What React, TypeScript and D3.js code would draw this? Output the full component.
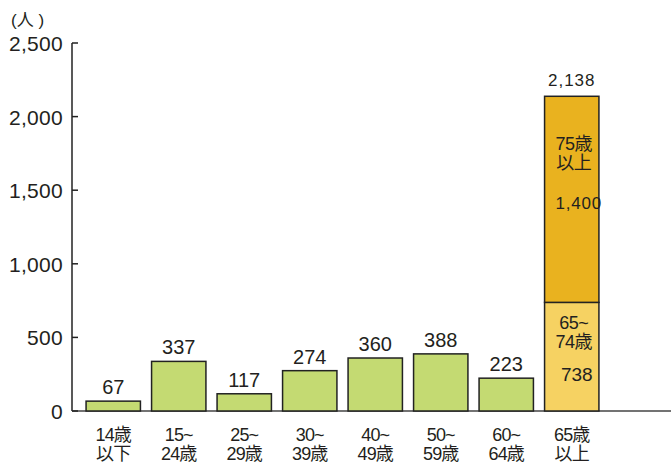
import React from "react";
import * as d3 from "d3";

const categories = ["14歳|以下", "15~|24歳", "25~|29歳", "30~|39歳", "40~|49歳", "50~|59歳", "60~|64歳", "65歳|以上"];
const values = [67, 337, 117, 274, 360, 388, 223];
const elderlySegments = [738, 1400];
const elderlyNames = ["65~|74歳", "75歳|以上"];
const yTicks = [0, 500, 1000, 1500, 2000, 2500];

const W = 671, H = 465;
const FONT = "'Liberation Sans', Arial, 'Noto Sans CJK JP', sans-serif";
const TXT = "#231f20";

export default function App() {
  const y = d3.scaleLinear().domain([0, 2500]).range([411, 43]);
  const x = d3.scaleBand<string>().domain(categories).range([80.5, 604.5]).paddingInner(0.17).paddingOuter(0.085);
  const bw = x.bandwidth();
  const fmt = d3.format(",");
  const total = d3.sum(elderlySegments);
  const stacked = d3.stack<any>().keys(["a", "b"])([{ a: elderlySegments[0], b: elderlySegments[1] }]);
  const segColors = ["#f6d262", "#e9b21f"];
  const last = categories[categories.length - 1];
  const lx = x(last)!;

  return (
    <svg width={W} height={H} style={{ position: "absolute", left: 0, top: 0, background: "#fff" }} fontFamily={FONT}>
      {/* unit */}
      <text x={11} y={26} fontSize={17} fill={TXT}>(人 )</text>
      {/* y axis */}
      <line x1={72} x2={72} y1={y(2500)} y2={y(0)} stroke="#222" strokeWidth={1.5} />
      <line x1={72} x2={671} y1={y(0)} y2={y(0)} stroke="#444" strokeWidth={1.5} />
      {yTicks.map((t) => (
        <g key={t}>
          <line x1={72} x2={78} y1={y(t)} y2={y(t)} stroke="#222" strokeWidth={1.5} />
          <text x={63} y={y(t) + 8} fontSize={21} textAnchor="end" fill={TXT} letterSpacing={0.3}>{fmt(t)}</text>
        </g>
      ))}
      {/* bars */}
      {values.map((v, i) => {
        const c = categories[i];
        return (
          <g key={c}>
            <rect x={x(c)} y={y(v)} width={bw} height={y(0) - y(v)} fill="#c4da72" stroke="#222" strokeWidth={1.5} />
            <text x={x(c)! + bw / 2} y={y(v) - 7} fontSize={20} textAnchor="middle" fill={TXT}>{fmt(v)}</text>
          </g>
        );
      })}
      {/* stacked */}
      {stacked.map((s, k) => {
        const [d0, d1] = s[0];
        return (
          <rect key={k} x={lx} y={y(d1)} width={bw} height={y(d0) - y(d1)} fill={segColors[k]} stroke="#222" strokeWidth={1.5} />
        );
      })}
      <text x={lx + bw / 2} y={y(total) - 10} fontSize={17} textAnchor="middle" fill={TXT} letterSpacing={1}>{fmt(total)}</text>
      {stacked.map((s, k) => {
        const top = y(s[0][1]);
        const [l1, l2] = elderlyNames[k].split("|");
        const offs = k === 0 ? [27, 46, 79] : [54, 73, 113];
        return (
          <g key={"t" + k} fontSize={18} fill={TXT}>
            <text x={lx + bw / 2 + 2} y={top + offs[0]} textAnchor="middle" letterSpacing={-0.5}>{l1}</text>
            <text x={lx + bw / 2 + 2} y={top + offs[1]} textAnchor="middle" letterSpacing={-0.5}>{l2}</text>
            <text x={lx + bw / 2 + (k === 0 ? 5 : 7)} y={top + offs[2]} textAnchor="middle" fontSize={k === 0 ? 19 : 17} letterSpacing={k === 0 ? 0 : 0.8}>{fmt(elderlySegments[k])}</text>
          </g>
        );
      })}
      {/* x labels */}
      {categories.map((c) => {
        const [a, b] = c.split("|");
        const cx = x(c)! + bw / 2;
        return (
          <g key={"x" + c} fontSize={18} fill={TXT} textAnchor="middle">
            <text x={cx} y={441} letterSpacing={-0.8}>{a}</text>
            <text x={cx} y={460} letterSpacing={-0.8}>{b}</text>
          </g>
        );
      })}
    </svg>
  );
}
